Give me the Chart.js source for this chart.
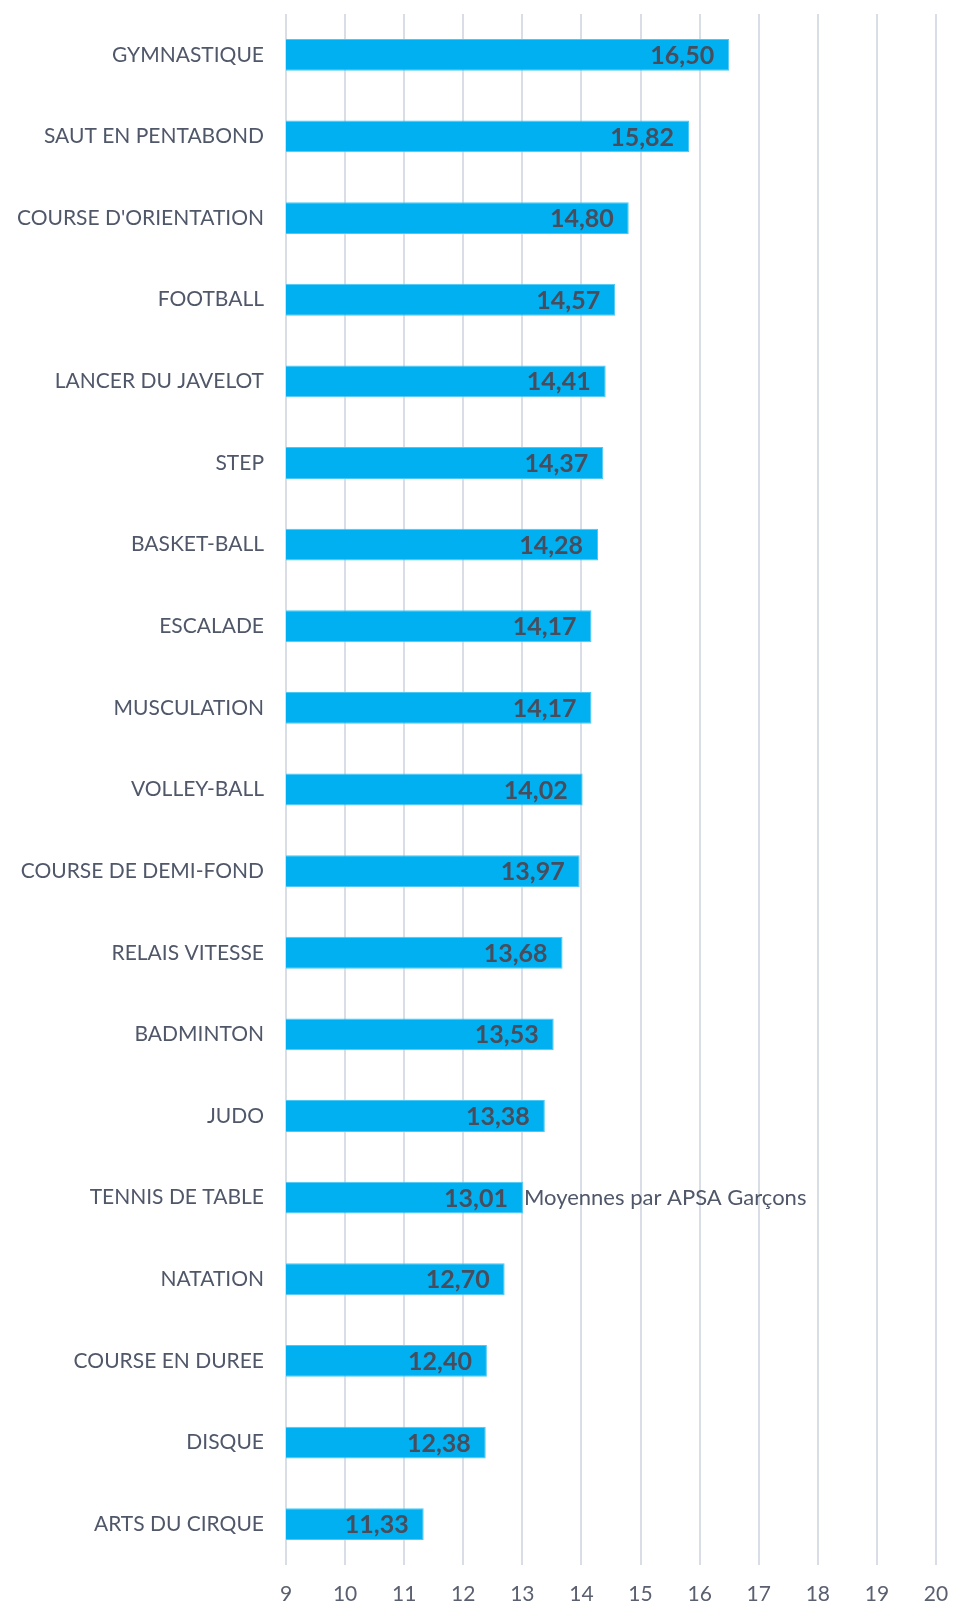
<!DOCTYPE html>
<html>
<head>
<meta charset="utf-8">
<script src="https://cdn.jsdelivr.net/npm/chart.js@4/dist/chart.umd.min.js"></script>
<style>
    html, body { margin: 0; padding: 0; background: #fff; }
    #wrap { width: 954px; height: 1607px; }
</style>
</head>
<body>
<div id="wrap"><canvas id="myChart" width="954" height="1607"></canvas></div>
<script>
// data
var categories = ["GYMNASTIQUE", "SAUT EN PENTABOND", "COURSE D'ORIENTATION", "FOOTBALL", "LANCER DU JAVELOT",
    "STEP", "BASKET-BALL", "ESCALADE", "MUSCULATION", "VOLLEY-BALL", "COURSE DE DEMI-FOND",
    "RELAIS VITESSE", "BADMINTON", "JUDO", "TENNIS DE TABLE", "NATATION", "COURSE EN DUREE",
    "DISQUE", "ARTS DU CIRQUE"];
var moyennes = [16.50, 15.82, 14.80, 14.57, 14.41, 14.37, 14.28, 14.17, 14.17, 14.02, 13.97,
    13.68, 13.53, 13.38, 13.01, 12.70, 12.40, 12.38, 11.33];
var seriesName = "Moyennes par APSA Garçons";
var seriesNameAt = "TENNIS DE TABLE";
var xTicks = [9, 10, 11, 12, 13, 14, 15, 16, 17, 18, 19, 20];

var fontFamily = "Lato, 'Open Sans', sans-serif";
var textColor = "#4f5769";

//draws the values inside the bars and the stray series name
var valueLabels = {
    id: "valueLabels",
    afterDatasetsDraw: function(chart) {
        var ctx = chart.ctx;
        var meta = chart.getDatasetMeta(0);
        ctx.save();
        ctx.textBaseline = "middle";
        meta.data.forEach(function(bar, i) {
            var txt = moyennes[i].toFixed(2).replace(".", ",");
            ctx.fillStyle = "#474d5c";
            ctx.font = "bold 25px " + fontFamily;
            ctx.textAlign = "right";
            ctx.fillText(txt, bar.x - 15, bar.y + 1);
            if (categories[i] === seriesNameAt) {
                ctx.font = "22px " + fontFamily;
                ctx.fillStyle = textColor;
                ctx.textAlign = "left";
                ctx.fillText(seriesName, bar.x + 1, bar.y);
            }
        });
        ctx.restore();
    }
};

function noPadding(scale) {
    scale.paddingTop = 0;
    scale.paddingBottom = 0;
    scale.paddingLeft = 0;
    scale.paddingRight = 0;
}

var ctx = document.getElementById("myChart").getContext("2d");
var chart = new Chart(ctx, {
    type: "bar",
    data: {
        labels: categories,
        datasets: [
            {
                label: seriesName,
                data: moyennes,
                backgroundColor: "#00b0f0",
                borderColor: "#4cc8f4",
                borderWidth: 1,
                categoryPercentage: 1,
                barPercentage: 0.39
            }
        ]
    },
    options: {
        indexAxis: "y",
        responsive: false,
        animation: false,
        layout: { padding: { top: 14, right: 18, left: 0, bottom: 0 } },
        plugins: {
            legend: { display: false },
            tooltip: { enabled: false }
        },
        scales: {
            x: {
                min: xTicks[0],
                max: xTicks[xTicks.length - 1],
                afterBuildTicks: function(scale) {
                    scale.ticks = xTicks.map(function(v) { return { value: v }; });
                },
                afterFit: function(scale) { scale.height = 42; noPadding(scale); },
                grid: { color: "#d9dde6", lineWidth: 2, drawTicks: false },
                border: { display: false },
                ticks: {
                    color: "#5a6070",
                    font: { family: fontFamily, size: 21 },
                    padding: 17
                }
            },
            y: {
                afterFit: function(scale) { scale.width = 286; noPadding(scale); },
                grid: { display: false, drawTicks: false },
                border: { display: false },
                ticks: {
                    color: textColor,
                    font: { family: fontFamily, size: 21 },
                    padding: 22,
                    autoSkip: false
                }
            }
        }
    },
    plugins: [valueLabels]
});
</script>
</body>
</html>
